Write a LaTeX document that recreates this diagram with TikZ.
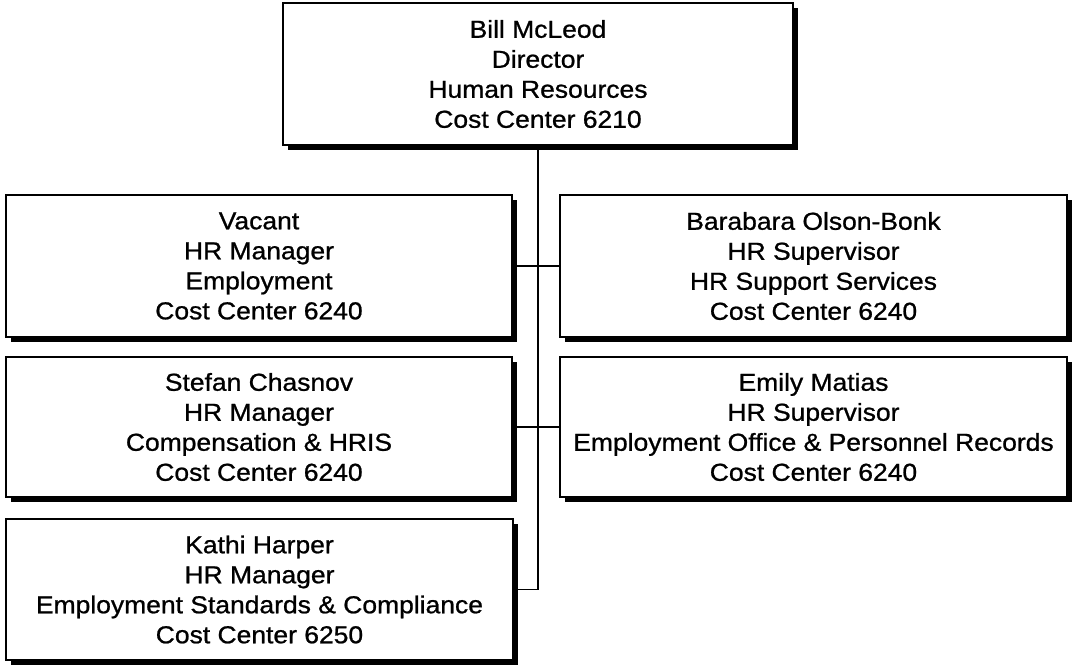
\documentclass[tikz,border=0pt]{standalone}
\usepackage{fontspec}
\setmainfont{Liberation Sans}[FakeStretch=1.08, FakeBold=0.9]
\usetikzlibrary{shadows}
\begin{document}
\begin{tikzpicture}[x=1pt,y=-1pt,
  orgbox/.style={draw=black, line width=1.6pt, fill=white, rectangle, inner sep=0pt,
    align=center, font=\fontsize{24.5}{30}\selectfont,
    drop shadow={shadow xshift=5pt, shadow yshift=-5pt, fill=black, opacity=1}},
  link/.style={draw=black, line width=1.8pt}]
\useasboundingbox (0,0) rectangle (1072,668);
\node[orgbox, minimum width=510pt, minimum height=142pt] (top) at (538,74)
  {Bill McLeod\\Director\\Human Resources\\Cost Center 6210};
\node[orgbox, minimum width=506pt, minimum height=142pt] (l1) at (259,266)
  {Vacant\\HR Manager\\Employment\\Cost Center 6240};
\node[orgbox, minimum width=506pt, minimum height=140pt] (l2) at (259,427)
  {Stefan Chasnov\\HR Manager\\Compensation \& HRIS\\Cost Center 6240};
\node[orgbox, minimum width=507pt, minimum height=141pt] (l3) at (259.5,589.5)
  {Kathi Harper\\HR Manager\\Employment Standards \& Compliance\\Cost Center 6250};
\node[orgbox, minimum width=507pt, minimum height=142pt] (r1) at (813.5,266)
  {Barabara Olson-Bonk\\HR Supervisor\\HR Support Services\\Cost Center 6240};
\node[orgbox, minimum width=507pt, minimum height=140pt] (r2) at (813.5,427)
  {Emily Matias\\HR Supervisor\\Employment Office \& Personnel Records\\Cost Center 6240};
\draw[link] (top.south) -- (top.south |- l3.east) -- (l3.east);
\draw[link] (l1.east) -- (r1.west);
\draw[link] (l2.east) -- (r2.west);
\end{tikzpicture}
\end{document}
